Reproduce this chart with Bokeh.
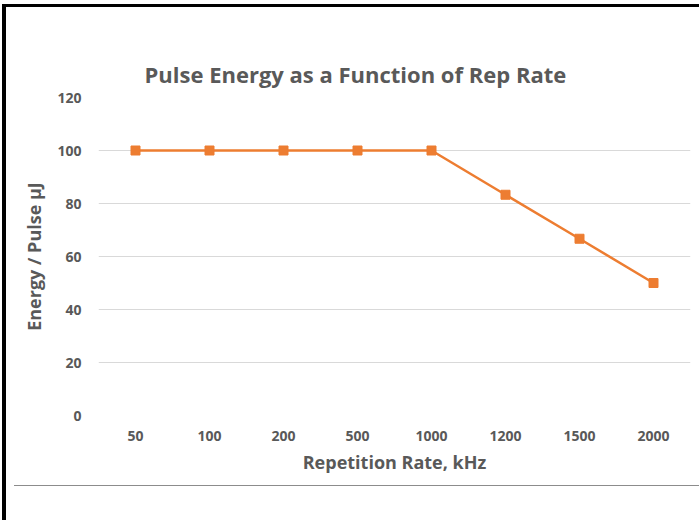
from bokeh.plotting import figure
from bokeh.models import FactorRange, Range1d, FixedTicker, Div
from bokeh.layouts import column, row
from bokeh.embed import file_html
from bokeh.resources import INLINE

# ---- data ----
rep_rates = ["50", "100", "200", "500", "1000", "1200", "1500", "2000"]
energy = [100, 100, 100, 100, 100, 83.3, 66.7, 50]
y_ticks = [0, 20, 40, 60, 80, 100, 120]

title_text = "Pulse Energy as a Function of Rep Rate"
x_title = "Repetition Rate, kHz"
y_title = "Energy / Pulse µJ"

FONT = "Open Sans"
GREY_TXT = "#595959"
ORANGE = "#ED7D31"

W, H = 693, 478
p = figure(width=W, height=H,
           x_range=FactorRange(*rep_rates, range_padding=0),
           y_range=Range1d(0, 120),
           output_backend="svg", toolbar_location=None,
           min_border_left=92, min_border_right=9,
           min_border_top=90, min_border_bottom=70)
p.outline_line_color = None
p.background_fill_color = "white"
p.border_fill_color = "white"

# title
p.title.text = title_text
p.title.align = "left"
p.title.offset = 46
p.title.text_font = FONT
p.title.text_font_size = "22px"
p.title.text_font_style = "bold"
p.title.text_color = GREY_TXT
p.title.standoff = 17

# grids
p.xgrid.visible = False
p.ygrid.grid_line_color = "#D9D9D9"
p.ygrid.grid_line_width = 1
p.yaxis.ticker = FixedTicker(ticks=y_ticks)

for ax in (p.xaxis[0], p.yaxis[0]):
    ax.axis_line_color = None
    ax.major_tick_line_color = None
    ax.minor_tick_line_color = None
    ax.major_tick_out = 0
    ax.major_label_text_font = FONT
    ax.major_label_text_font_size = "14px"
    ax.major_label_text_font_style = "bold"
    ax.major_label_text_color = GREY_TXT
    ax.axis_label_text_font = FONT
    ax.axis_label_text_font_size = "18px"
    ax.axis_label_text_font_style = "bold"
    ax.axis_label_text_color = GREY_TXT

p.xaxis.axis_label = x_title
p.yaxis.axis_label = y_title
p.xaxis.major_label_standoff = 15
p.yaxis.major_label_standoff = 17
p.xaxis.axis_label_standoff = 6
p.yaxis.axis_label_standoff = 8

# series
p.line(x=rep_rates, y=energy, line_color=ORANGE, line_width=2.5)
p.scatter(x=rep_rates, y=energy, marker="square", size=9,
          fill_color=ORANGE, line_color=ORANGE)

# screenshot frame edges
top_bar = Div(width=697, height=3, margin=(4, 0, 0, 2),
              styles={"background-color": "#000000"})
left_bar = Div(width=4, height=513, margin=(0, 0, 0, 2),
               styles={"background-color": "#000000"})
rule = Div(width=685, height=1, margin=(0, 0, 0, 8),
           styles={"background-color": "#8C8C8C"})

layout = column(top_bar, row(left_bar, column(p, rule, spacing=0), spacing=0),
                spacing=0)
open("out.html", "w").write(file_html(layout, INLINE))
